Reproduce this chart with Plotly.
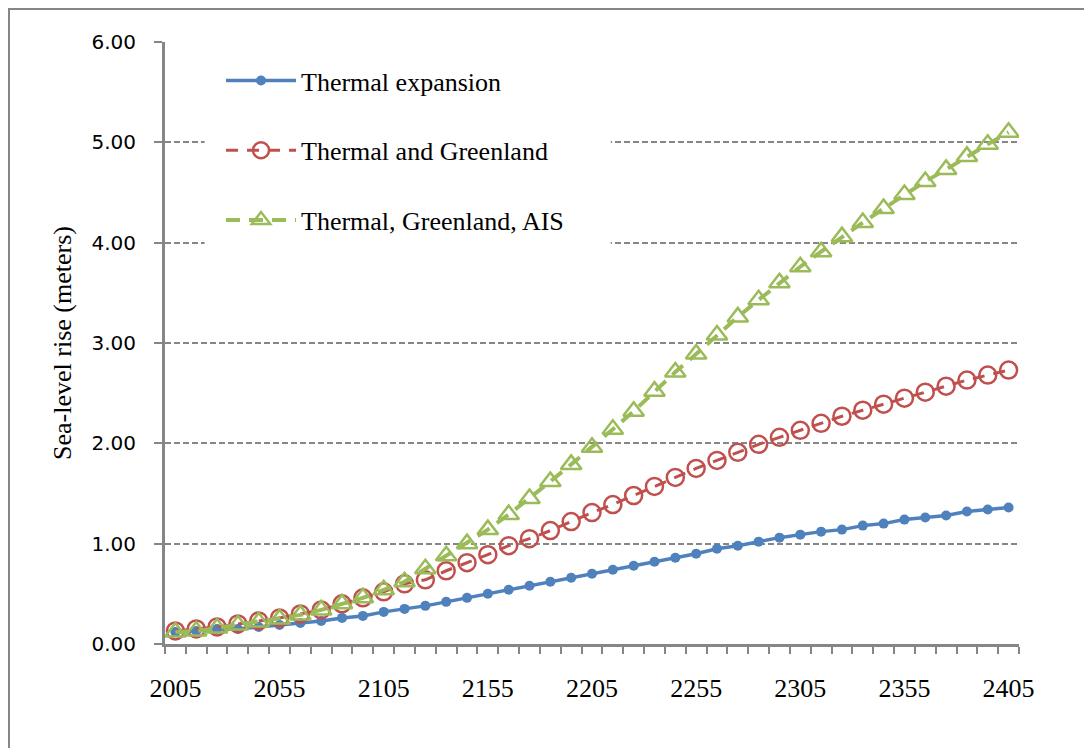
import plotly.graph_objects as go

years = list(range(2005, 2406, 10))
tick_years = [2005, 2055, 2105, 2155, 2205, 2255, 2305, 2355, 2405]

thermal = [0.12, 0.13, 0.15, 0.15, 0.17, 0.19, 0.21, 0.23, 0.26, 0.28,
           0.32, 0.35, 0.38, 0.42, 0.46, 0.50, 0.54, 0.58, 0.62, 0.66,
           0.70, 0.74, 0.78, 0.82, 0.86, 0.90, 0.95, 0.98, 1.02, 1.06,
           1.09, 1.12, 1.14, 1.18, 1.20, 1.24, 1.26, 1.28, 1.32, 1.34, 1.36]

thermal_greenland = [0.13, 0.15, 0.17, 0.20, 0.23, 0.26, 0.30, 0.34, 0.40, 0.46,
                     0.52, 0.60, 0.64, 0.73, 0.81, 0.89, 0.98, 1.05, 1.13, 1.22,
                     1.31, 1.39, 1.48, 1.57, 1.66, 1.75, 1.83, 1.91, 1.99, 2.06,
                     2.13, 2.20, 2.27, 2.33, 2.39, 2.45, 2.51, 2.57, 2.63, 2.68, 2.73]

thermal_greenland_ais = [0.12, 0.13, 0.16, 0.19, 0.22, 0.25, 0.29, 0.34, 0.40, 0.46,
                         0.54, 0.62, 0.75, 0.88, 1.00, 1.14, 1.29, 1.45, 1.62, 1.79,
                         1.96, 2.14, 2.32, 2.52, 2.71, 2.89, 3.08, 3.26, 3.43, 3.60,
                         3.76, 3.91, 4.06, 4.20, 4.34, 4.48, 4.61, 4.73, 4.86, 4.98, 5.10]

names = ["Thermal expansion", "Thermal and Greenland", "Thermal, Greenland, AIS"]

BLUE = "#4F81BD"
RED = "#C0504D"
GREEN = "#9BBB59"
GRAY = "#868686"
SERIF = "Liberation Serif"

L, R, T, B = 157, 81, 34, 112
PW = 1092 - L - R
PH = 748 - T - B

fig = go.Figure()
fig.add_trace(go.Scatter(
    x=years, y=thermal, name=names[0], mode="lines+markers", legendgroup="a",
    line=dict(color=BLUE, width=3.5),
    marker=dict(symbol="circle", size=10, color=BLUE)))
fig.add_trace(go.Scatter(
    x=years, y=thermal_greenland, name=names[1], mode="lines+markers", legendgroup="b",
    line=dict(color=RED, width=3, dash="12px,9px"),
    marker=dict(symbol="circle-open", size=17, color=RED, line=dict(width=2.5, color=RED))))
fig.add_trace(go.Scatter(
    x=years, y=thermal_greenland_ais, name=names[2], mode="lines+markers", legendgroup="c",
    line=dict(color=GREEN, width=4, dash="14px,9px"),
    marker=dict(symbol="triangle-up-open", size=18, color=GREEN, line=dict(width=2.5, color=GREEN))))

boundaries = [y - 5 for y in years] + [years[-1] + 5]

fig.update_layout(
    width=1092, height=748,
    margin=dict(l=L, r=R, t=T, b=B),
    paper_bgcolor="white", plot_bgcolor="white",
    font=dict(family=SERIF, size=26, color="black"),
    showlegend=True,
    legend=dict(
        x=0.0656, y=0.975, xanchor="left", yanchor="top",
        bgcolor="rgba(0,0,0,0)", font=dict(family=SERIF, size=26, color="black"),
        itemwidth=70, tracegroupgap=33, traceorder="grouped",
    ),
    xaxis=dict(
        range=[2000, 2410],
        tickmode="array", tickvals=tick_years, ticktext=[str(t) for t in tick_years],
        ticks="", ticklabelstandoff=19,
        tickfont=dict(family=SERIF, size=26, color="black"),
        showgrid=False, zeroline=False,
        showline=True, linecolor=GRAY, linewidth=3,
        minor=dict(tickmode="array", tickvals=boundaries, ticks="outside",
                   ticklen=7, tickcolor=GRAY, tickwidth=2, showgrid=False),
    ),
    yaxis=dict(
        range=[0, 6], tickmode="array", tickvals=[0, 1, 2, 3, 4, 5, 6],
        tickformat=".2f",
        ticks="outside", ticklen=8, tickcolor=GRAY, tickwidth=2,
        ticklabelstandoff=14,
        tickfont=dict(family="DejaVu Sans", size=20, color="black"),
        showgrid=True, gridcolor=GRAY, gridwidth=2, griddash="6px,3px",
        zeroline=False,
        showline=True, linecolor=GRAY, linewidth=3,
        title=dict(text="Sea-level rise (meters)", standoff=13,
                   font=dict(family=SERIF, size=26, color="black")),
    ),
    shapes=[
        dict(type="rect", xref="x", yref="y", x0=2019, x1=2214, y0=3.88, y1=5.87,
             fillcolor="white", line=dict(width=0), layer="between"),
        dict(type="rect", xref="paper", yref="paper",
             x0=(1 - L) / PW, x1=(1110 - L) / PW,
             y0=(T + PH - 770) / PH, y1=(T + PH - 1) / PH,
             fillcolor="rgba(0,0,0,0)", line=dict(color=GRAY, width=2), layer="above"),
    ],
)

fig.write_html("out.html")
